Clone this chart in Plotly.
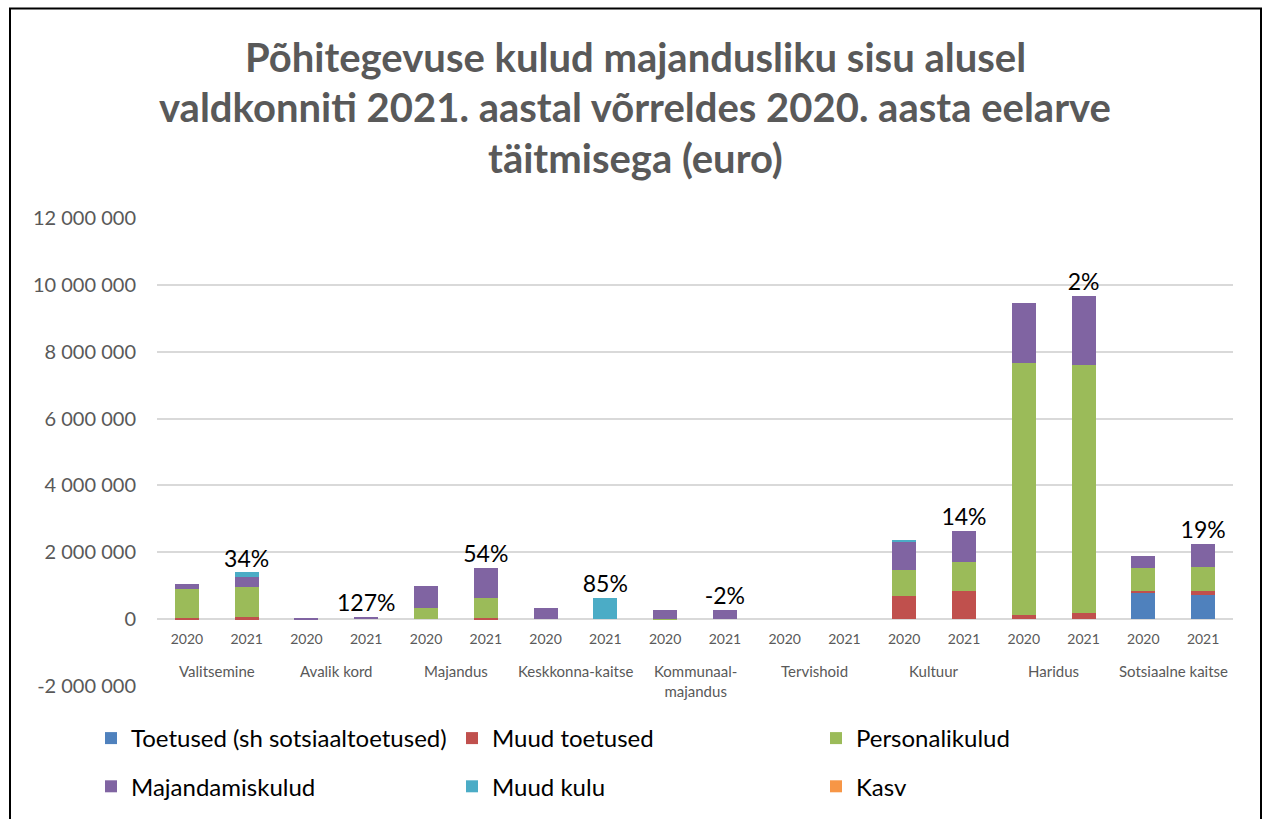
import plotly.graph_objects as go

groups = ["Valitsemine", "Avalik kord", "Majandus", "Keskkonna-kaitse",
          "Kommunaal-<br>majandus", "Tervishoid", "Kultuur", "Haridus", "Sotsiaalne kaitse"]
years = ["2020", "2021"]

# values per bar (group x year), in euro
toetused = [0, 0, 0, 0, 0, 0, 0, 0, 0, 0, 0, 0, 0, 0, 0, 0, 780000, 710000]
muud_toetused = [30000, 50000, 0, 0, 0, 30000, 0, 0, 0, 0, 0, 0, 680000, 850000, 130000, 170000, 70000, 120000]
personalikulud = [870000, 920000, 0, 0, 330000, 610000, 0, 0, 10000, 0, 0, 0, 800000, 870000, 7540000, 7420000, 690000, 720000]
majandamiskulud = [150000, 300000, 30000, 70000, 660000, 890000, 330000, 0, 260000, 270000, 0, 0, 840000, 930000, 1800000, 2070000, 350000, 700000]
muud_kulu = [0, 130000, 0, 0, 0, 0, 0, 630000, 0, 0, 0, 0, 20000, 0, 0, 0, 0, 0]
kasv = [0] * 18
kasv_labels = ["34%", "127%", "54%", "85%", "-2%", "", "14%", "2%", "19%"]

y_tickvals = [-2000000, 0, 2000000, 4000000, 6000000, 8000000, 10000000, 12000000]
y_ticktext = ["-2 000 000", "0", "2 000 000", "4 000 000", "6 000 000", "8 000 000", "10 000 000", "12 000 000"]

title_lines = ["Põhitegevuse kulud majandusliku sisu alusel",
               "valdkonniti 2021. aastal võrreldes 2020. aasta eelarve",
               "täitmisega (euro)"]

FONT = "Lato"
GRAY = "#595959"

xpos = list(range(len(groups) * len(years)))
xticktext = [y for g in groups for y in years]

series = [
    ("Toetused (sh sotsiaaltoetused)", toetused, "#4F81BD", "legend"),
    ("Muud toetused", muud_toetused, "#C0504D", "legend2"),
    ("Personalikulud", personalikulud, "#9BBB59", "legend3"),
    ("Majandamiskulud", majandamiskulud, "#8064A2", "legend"),
    ("Muud kulu", muud_kulu, "#4BACC6", "legend2"),
    ("Kasv", kasv, "#F79646", "legend3"),
]

fig = go.Figure()
for name, vals, col, lg in series:
    fig.add_trace(go.Bar(x=xpos, y=vals, name=name, marker_color=col,
                         marker_line_width=0, legend=lg, legendgroup=name))

totals = [sum(s[1][i] for s in series) for i in xpos]
idx21 = [i for i in xpos if xticktext[i] == "2021"]
fig.add_trace(go.Scatter(x=idx21, y=[totals[i] for i in idx21], text=kasv_labels,
                         mode="text", textposition="top center",
                         textfont=dict(family=FONT, size=23, color="black"),
                         showlegend=False, cliponaxis=False, hoverinfo="skip"))

# group labels
for gi, g in enumerate(groups):
    fig.add_annotation(x=gi * 2 + 0.5, y=0, xref="x", yref="y", text=g, showarrow=False,
                       yanchor="top", yshift=-41, font=dict(family=FONT, size=15, color=GRAY))

# title (pixel positions converted to plot-area paper coordinates)
for li, line in enumerate(title_lines):
    fig.add_annotation(x=(635 - 157) / 1076, y=(686 - (57 + li * 50.5)) / 468,
                       xref="paper", yref="paper", text=f"<b>{line}</b>",
                       showarrow=False, xanchor="center", yanchor="middle",
                       font=dict(family=FONT, size=40, color=GRAY))

shapes = []
# hide zero gridline
shapes.append(dict(type="line", xref="paper", yref="y", x0=0, x1=1, y0=0, y1=0,
                   line=dict(color="white", width=3), layer="below"))
# gaps in the bottom line at group boundaries
for gi in range(1, len(groups)):
    shapes.append(dict(type="line", xref="x", yref="y", ysizemode="pixel", yanchor=-2000000,
                       x0=gi * 2 - 0.5, x1=gi * 2 - 0.5, y0=-3, y1=3,
                       line=dict(color="white", width=3), layer="below"))
# outer border
shapes.append(dict(type="rect", xref="paper", yref="paper",
                   x0=(10 - 157) / 1076, x1=(1261 - 157) / 1076,
                   y0=(686 - 840) / 468, y1=(686 - 8.5) / 468,
                   line=dict(color="black", width=2), fillcolor="rgba(0,0,0,0)"))

legend_common = dict(orientation="v", yanchor="top", y=(686 - 716) / 468, xanchor="left",
                     bgcolor="rgba(0,0,0,0)", tracegroupgap=14, traceorder="grouped",
                     font=dict(family=FONT, size=24, color="black"))

fig.update_layout(
    width=1263, height=819,
    margin=dict(l=157, r=30, t=218, b=133, autoexpand=False),
    paper_bgcolor="white", plot_bgcolor="white",
    barmode="stack", bargap=0.6,
    font=dict(family=FONT, color=GRAY),
    showlegend=True,
    legend=dict(x=(91 - 157) / 1076, **legend_common),
    legend2=dict(x=(452 - 157) / 1076, **legend_common),
    legend3=dict(x=(816 - 157) / 1076, **legend_common),
    shapes=shapes,
    xaxis=dict(range=[-0.5, len(xpos) - 0.5], tickvals=xpos, ticktext=xticktext,
               showgrid=False, zeroline=False, showline=False, anchor="free",
               position=2 / 14, ticks="", ticklabelstandoff=10,
               tickfont=dict(family=FONT, size=14, color=GRAY)),
    yaxis=dict(range=[-2000000, 12000000], tickvals=y_tickvals, ticktext=y_ticktext,
               showgrid=True, gridcolor="#D9D9D9", gridwidth=1.5, zeroline=False,
               showline=False, ticks="", ticklabelstandoff=20,
               tickfont=dict(family=FONT, size=20, color=GRAY)),
)

fig.write_html("out.html")
